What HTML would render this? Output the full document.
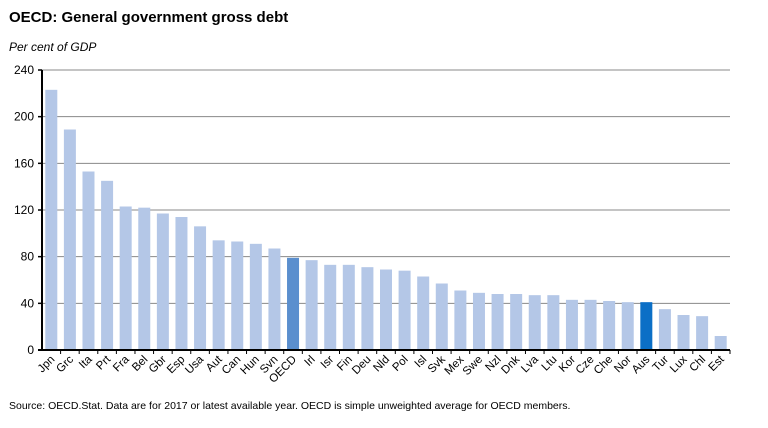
<!DOCTYPE html>
<html><head><meta charset="utf-8"><style>
body{margin:0;background:#fff;font-family:"Liberation Sans",Arial,sans-serif;}
</style></head><body>
<svg width="768" height="423" xmlns="http://www.w3.org/2000/svg" id="chart">
<text x="9" y="22" font-size="15" font-weight="bold" fill="#000">OECD: General government gross debt</text>
<text x="9" y="51" font-size="12" font-style="italic" fill="#000">Per cent of GDP</text>
<text x="9" y="409" font-size="10.5" fill="#000">Source: OECD.Stat.  Data are for 2017 or latest available year.  OECD is simple unweighted average for OECD members.</text>
<g id="grid"></g><g id="bars"></g><g id="axes"></g>
</svg>
<script>
const categories=["Jpn","Grc","Ita","Prt","Fra","Bel","Gbr","Esp","Usa","Aut","Can","Hun","Svn","OECD","Irl","Isr","Fin","Deu","Nld","Pol","Isl","Svk","Mex","Swe","Nzl","Dnk","Lva","Ltu","Kor","Cze","Che","Nor","Aus","Tur","Lux","Chl","Est"];
const values=[223,189,153,145,123,122,117,114,106,94,93,91,87,79,77,73,73,71,69,68,63,57,51,49,48,48,47,47,43,43,42,41,41,35,30,29,12];
const yTicks=[0,40,80,120,160,200,240];
const highlight={"OECD":"#5b8fce","Aus":"#0b6fc6"};
const NS="http://www.w3.org/2000/svg";
const x0=42,x1=730,yTop=70,yBot=350,yMax=240;
const band=(x1-x0)/categories.length;
const y=v=>yBot-(v/yMax)*(yBot-yTop);
const xc=i=>x0+band*(i+0.5);
function mk(tag,attrs,parent){const e=document.createElementNS(NS,tag);for(const k in attrs)e.setAttribute(k,attrs[k]);document.getElementById(parent).appendChild(e);return e;}
yTicks.forEach(t=>{
  if(t>0){const l=mk('line',{x1:x0,x2:x1,y1:y(t),y2:y(t),stroke:'#888','stroke-width':1},'grid');
  
  }
  const tk=mk('line',{x1:x0-4,x2:x0,y1:y(t),y2:y(t),stroke:'#000','stroke-width':1.5},'axes');
  
  
  const tx=mk('text',{x:x0-8,y:y(t)+4,'text-anchor':'end','font-size':12,fill:'#000'},'axes');
  tx.textContent=t;
  
  
});
categories.forEach((c,i)=>{
  const w=12;
  const r=mk('rect',{x:xc(i)-w/2,y:y(values[i]),width:w,height:yBot-y(values[i]),fill:highlight[c]||'#b4c7e7'},'bars');
  
  
  const tk=mk('line',{x1:x0+band*(i+1),x2:x0+band*(i+1),y1:yBot,y2:yBot+4,stroke:'#000','stroke-width':1},'axes');
  
  
  const tx=mk('text',{x:xc(i)+4,y:yBot+10,'text-anchor':'end','font-size':11.5,fill:'#000',transform:`rotate(-45 ${xc(i)+4} ${yBot+10})`},'axes');
  tx.textContent=c;
  
  
});
const ya=mk('line',{x1:x0,x2:x0,y1:yTop,y2:yBot,stroke:'#000','stroke-width':2},'axes');


const xa=mk('line',{x1:x0-4,x2:x1,y1:yBot,y2:yBot,stroke:'#000','stroke-width':2},'axes');


</script>
</body></html>
